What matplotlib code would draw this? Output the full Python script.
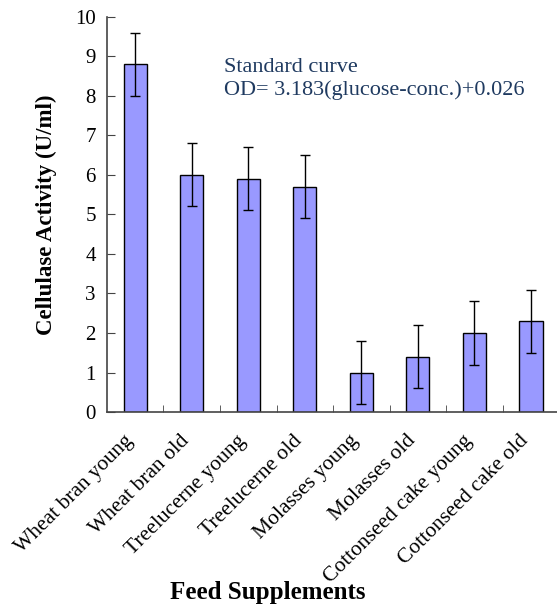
import matplotlib.pyplot as plt
import matplotlib.transforms as mtransforms
import numpy as np

# feed supplements and cellulase activity (U/ml)
feeds = ['Wheat bran young', 'Wheat bran old', 'Treelucerne young',
         'Treelucerne old', 'Molasses young', 'Molasses old',
         'Cottonseed cake young', 'Cottonseed cake old']
activity = [8.8, 6.0, 5.9, 5.7, 1.0, 1.4, 2.0, 2.3]
errors = [0.8, 0.8, 0.8, 0.8, 0.8, 0.8, 0.8, 0.8]
yticks = [0, 1, 2, 3, 4, 5, 6, 7, 8, 9, 10]

plt.rcParams['font.family'] = ['Liberation Serif', 'DejaVu Serif']

fig = plt.figure(figsize=(5.57, 6.06), dpi=100)
ax = fig.add_axes([0.192, 0.320, 0.812, 0.6524])

x = np.arange(len(feeds))
ax.bar(x, activity, width=0.41, color='#9999FF', edgecolor='black', linewidth=1.0)
ax.errorbar(x, activity, yerr=errors, fmt='none', ecolor='black',
            elinewidth=1.0, capsize=3.5, capthick=1.0)

ax.set_xlim(-0.5, len(feeds) - 0.5)
ax.set_ylim(0, 10)
ax.set_yticks(yticks)
ax.set_yticklabels([str(t) for t in yticks], fontsize=15)

ax.set_xticks(x)
ax.set_xticklabels(feeds, rotation=45, ha='right', va='top',
                   rotation_mode='anchor', fontsize=15.5)
ax.tick_params(axis='x', which='major', length=0, pad=16)
# nudge the rotated labels left
shift = mtransforms.ScaledTranslation(-12 / 100, 3 / 100, fig.dpi_scale_trans)
for lab in ax.get_xticklabels():
    lab.set_transform(lab.get_transform() + shift)
ax.set_xticks(np.arange(0.5, len(feeds) - 0.5, 1), minor=True)
ax.tick_params(axis='x', which='minor', direction='in', length=5,
               color='#444444')
ax.tick_params(axis='y', direction='in', length=6, color='#444444', pad=8)

for s in ['top', 'right']:
    ax.spines[s].set_visible(False)
for s in ['left', 'bottom']:
    ax.spines[s].set_color('#444444')
    ax.spines[s].set_linewidth(1.2)

ax.set_ylabel('Cellulase Activity (U/ml)', fontsize=16.5, fontweight='bold',
              labelpad=13)

fig.text(224 / 557, 1 - 58 / 606,
         'Standard curve\nOD= 3.183(glucose-conc.)+0.026',
         fontsize=16, color='#1F3A60', va='top', ha='left', linespacing=1.25)

fig.text(0.48, 1 - 593 / 606, 'Feed Supplements', fontsize=18,
         fontweight='bold', ha='center', va='center')

fig.savefig('out.png', dpi=100)
